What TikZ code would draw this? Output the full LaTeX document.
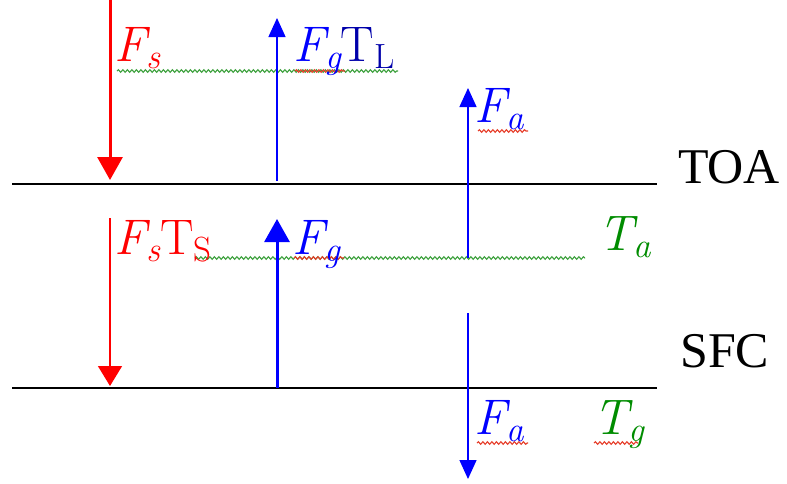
\documentclass[tikz,border=0pt]{standalone}
\usepackage{fontspec}
\newfontfamily\timesfont{Liberation Serif}
\usetikzlibrary{arrows.meta,decorations.pathmorphing}
\newcommand\mysub[1]{\raisebox{-7.5pt}{\fontsize{35}{40}\selectfont #1}}
\newcommand\myvar[2]{{\itshape #1}\mysub{\itshape #2}}
\definecolor{fred}{RGB}{255,0,0}
\definecolor{fblue}{RGB}{0,0,255}
\definecolor{dblue}{RGB}{0,0,170}
\definecolor{fgreen}{RGB}{0,140,0}
\definecolor{sqgreen}{RGB}{60,160,60}
\definecolor{sqred}{RGB}{230,60,40}
\begin{document}
\begin{tikzpicture}[x=1pt,y=-1pt,
  lvl/.style={line width=1.5pt,black},
  thinarr/.style={line width=1.4pt,-{Triangle[width=17pt,length=19pt]}},
  thickarr/.style={line width=3pt,-{Triangle[width=25pt,length=23pt]}},
  lbl/.style={inner sep=0pt,anchor=base west,font=\fontsize{50}{56}\selectfont},
  side/.style={inner sep=0pt,anchor=base west,font=\timesfont\fontsize{50}{56}\selectfont},
  sqg/.style={sqgreen,line width=1.1pt,decorate,decoration={snake,segment length=4.5pt,amplitude=1.3pt}},
  sqr/.style={sqred,line width=1.1pt,decorate,decoration={snake,segment length=4.5pt,amplitude=1.3pt}}]
\useasboundingbox (0,0) rectangle (787,483);
% levels
\coordinate (toaL) at (12,184); \coordinate (toaR) at (657,184);
\coordinate (sfcL) at (12,388); \coordinate (sfcR) at (657,388);
\draw[lvl] (toaL) -- (toaR);
\draw[lvl] (sfcL) -- (sfcR);
\node[side] (toa) at (678,183) {TOA};
\node[side] (sfc) at (680,367) {SFC};
% squiggles (behind text)
\coordinate (sq1a) at (117,71); \coordinate (sq1b) at (398,71);
\draw[sqg] (sq1a) -- (sq1b);
\coordinate (sq2a) at (295,71); \coordinate (sq2b) at (345,71);
\draw[sqr] (sq2a) -- (sq2b);
\coordinate (sq3a) at (478,131); \coordinate (sq3b) at (528,131);
\draw[sqr] (sq3a) -- (sq3b);
\coordinate (sq4a) at (195,258); \coordinate (sq4b) at (585,258);
\draw[sqg] (sq4a) -- (sq4b);
\coordinate (sq5a) at (294,258); \coordinate (sq5b) at (344,258);
\draw[sqr] (sq5a) -- (sq5b);
\coordinate (sq6a) at (477,443); \coordinate (sq6b) at (528,443);
\draw[sqr] (sq6a) -- (sq6b);
\coordinate (sq7a) at (594,443); \coordinate (sq7b) at (638,443);
\draw[sqr] (sq7a) -- (sq7b);
% arrows
\coordinate (a1s) at (110,0);   \coordinate (a1e) at (110,180);
\draw[thickarr,fred] (a1s) -- (a1e);
\coordinate (a2s) at (277,181); \coordinate (a2e) at (277,18);
\draw[thinarr,fblue] (a2s) -- (a2e);
\coordinate (a3s) at (468,258); \coordinate (a3e) at (468,88);
\draw[thinarr,fblue] (a3s) -- (a3e);
\coordinate (a4s) at (110,218); \coordinate (a4e) at (110,386);
\draw[line width=1.4pt,fred,-{Triangle[width=24pt,length=20pt]}] (a4s) -- (a4e);
\coordinate (a5s) at (277,388); \coordinate (a5e) at (277,219);
\draw[thickarr,fblue] (a5s) -- (a5e);
\coordinate (a6s) at (468,313); \coordinate (a6e) at (468,479);
\draw[thinarr,fblue] (a6s) -- (a6e);
% labels
\node[lbl,fred] (fs1) at (114,61) {\myvar{F}{s}};
\node[lbl,fblue] (fg1) at (293,61) {\myvar{F}{g}\textcolor{dblue}{T\mysub{L}}};
\node[lbl,fblue] (fa1) at (474,122) {\myvar{F}{a}};
\node[lbl,fred] (fs2) at (114,254) {\myvar{F}{s}T\mysub{S}};
\node[lbl,fblue] (fg2) at (292,254) {\myvar{F}{g}};
\node[lbl,fgreen] (ta) at (598,250) {\myvar{T}{a}};
\node[lbl,fblue] (fa2) at (474,434) {\myvar{F}{a}};
\node[lbl,fgreen] (tg) at (593,434) {\myvar{T}{g}};
\end{tikzpicture}
\end{document}
